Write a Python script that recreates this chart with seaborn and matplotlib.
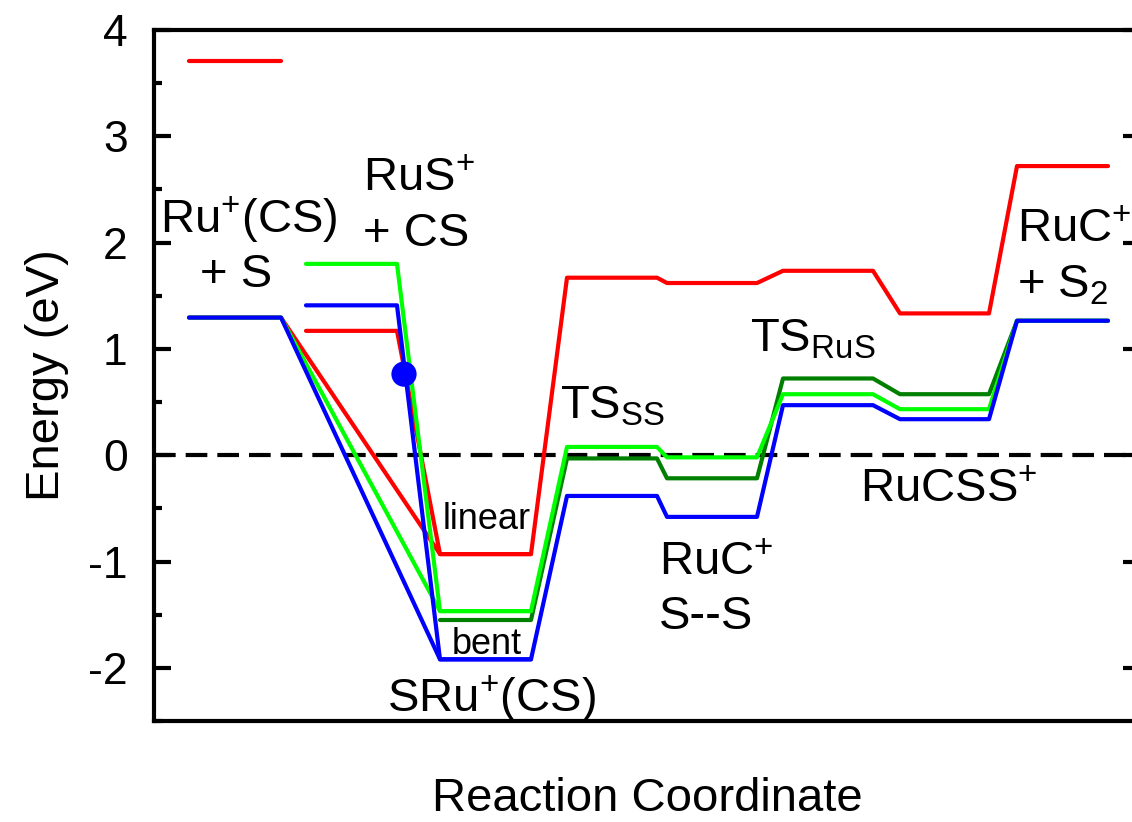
import matplotlib
matplotlib.use("Agg")
import matplotlib.pyplot as plt
import seaborn as sns
import numpy as np
import pandas as pd
from matplotlib.ticker import MultipleLocator

sns.set_theme(style="ticks")
plt.rcParams['font.family'] = ['Liberation Sans', 'DejaVu Sans']
plt.rcParams['mathtext.fontset'] = 'custom'
plt.rcParams['mathtext.rm'] = 'Liberation Sans'
plt.rcParams['mathtext.it'] = 'Liberation Sans:italic'
plt.rcParams['mathtext.default'] = 'regular'
plt.rcParams['axes.unicode_minus'] = False
plt.rcParams['text.color'] = 'black'
plt.rcParams['axes.labelcolor'] = 'black'
plt.rcParams['ytick.color'] = 'black'
plt.rcParams['xtick.color'] = 'black'

# Reaction-coordinate extent of each stage (start, end)
stage_names = ["Ru+(CS)+S", "SRu+(CS)", "TS_SS", "RuC+ S--S", "TS_RuS", "RuCSS+", "RuC+ + S2"]
stage_start = [0.35, 2.86, 4.13, 5.13, 6.29, 7.46, 8.63]
stage_end = [1.27, 3.77, 5.03, 6.03, 7.19, 8.35, 9.54]

# Energies (eV) along the main pathway for each curve
red_E = [1.295, -0.93, 1.67, 1.62, 1.735, 1.334, 2.72]
dkgreen_E = [-1.55, -0.03, -0.217, 0.722, 0.574, 1.265]   # from SRu+(CS) onwards
green_E = [1.295, -1.466, 0.078, -0.02, 0.574, 0.433, 1.265]
blue_E = [1.295, -1.92, -0.383, -0.58, 0.471, 0.339, 1.265]

# RuS+ + CS asymptote, connected to SRu+(CS)
rus_start, rus_end = 1.52, 2.43
red_RuS = 1.17
green_RuS = 1.80
blue_RuS = 1.41

# excited Ru+(CS) + S level (red)
red_excited = 3.71

# marked point on the blue curve
dot_x, dot_E = 2.50, 0.763

colors = {"red": "#FF0000", "dkgreen": "#007F00", "green": "#00FF00", "blue": "#0000FF"}


def path(starts, ends, energies):
    xs, ys = [], []
    for s, e, v in zip(starts, ends, energies):
        xs += [s, e]
        ys += [v, v]
    return pd.DataFrame({"x": xs, "E": ys})


fig = plt.figure(figsize=(11.32, 8.22), dpi=100)
ax = fig.add_axes([154 / 1132, 101 / 822, (1140 - 154) / 1132, (721 - 30) / 822])

ax.axhline(0, color="black", lw=3, ls=(0, (5.2, 2.4)), zorder=1)

lw = 3
kw = dict(sort=False, estimator=None, lw=lw, ax=ax, legend=False)

def draw(df, col, z):
    sns.lineplot(data=df, x="x", y="E", color=col, zorder=z, **kw)
    ax.lines[-1].set_solid_capstyle("round")

# red
draw(path([stage_start[0]], [stage_end[0]], [red_excited]), colors["red"], 2)
draw(path(stage_start, stage_end, red_E), colors["red"], 2)
draw(path([rus_start, stage_start[1]], [rus_end, stage_end[1]], [red_RuS, red_E[1]]), colors["red"], 2)
# dark green
draw(path(stage_start[1:], stage_end[1:], dkgreen_E), colors["dkgreen"], 3)
# light green
draw(path(stage_start, stage_end, green_E), colors["green"], 4)
draw(path([rus_start, stage_start[1]], [rus_end, stage_end[1]], [green_RuS, green_E[1]]), colors["green"], 4)
# blue
draw(path(stage_start, stage_end, blue_E), colors["blue"], 5)
draw(path([rus_start, stage_start[1]], [rus_end, stage_end[1]], [blue_RuS, blue_E[1]]), colors["blue"], 5)

sns.scatterplot(x=[dot_x], y=[dot_E], color=colors["blue"], s=330, edgecolor="none", zorder=6, ax=ax, legend=False)

ax.set_xlim(0, 9.86)
ax.set_ylim(-2.5, 4.0)
ax.yaxis.set_major_locator(MultipleLocator(1))
ax.yaxis.set_minor_locator(MultipleLocator(0.5))
ax.set_xticks([])
ax.tick_params(axis="y", which="both", direction="in", left=True, right=True, width=3, color="black")
ax.tick_params(axis="y", which="major", length=12, labelsize=32, pad=19, labelcolor="black")
ax.tick_params(axis="y", which="minor", length=6)
for sp in ax.spines.values():
    sp.set_linewidth(3)
    sp.set_color("black")

ax.set_ylabel("Energy (eV)", fontsize=34, labelpad=14, color="black")
ax.set_xlabel("Reaction Coordinate", fontsize=34, labelpad=40, color="black")

fs = 34
t = dict(ha="left", va="baseline", fontsize=fs, color="black", zorder=7)
ax.text(0.06, 2.09, "Ru$^{+}$(CS)", **t)
ax.text(0.46, 1.58, "+ S", **t)
ax.text(2.09, 2.486, "RuS$^{+}$", **t)
ax.text(2.09, 1.968, "+ CS", **t)
ax.text(2.89, -0.697, "linear", ha="left", va="baseline", fontsize=26, color="black", zorder=7)
ax.text(2.98, -1.874, "bent", ha="left", va="baseline", fontsize=26, color="black", zorder=7)
ax.text(2.33, -2.41, "SRu$^{+}$(CS)", **t)
ax.text(4.06, 0.348, "TS$_{SS}$", **t)
ax.text(5.96, 0.979, "TS$_{RuS}$", **t)
ax.text(5.05, -1.13, "RuC$^{+}$", **t)
ax.text(5.05, -1.638, "S--S", **t)
ax.text(7.06, -0.443, "RuCSS$^{+}$", **t)
ax.text(8.63, 2.006, "RuC$^{+}$", **t)
ax.text(8.63, 1.488, "+ S$_{2}$", **t)

fig.savefig("out.png", dpi=100)
